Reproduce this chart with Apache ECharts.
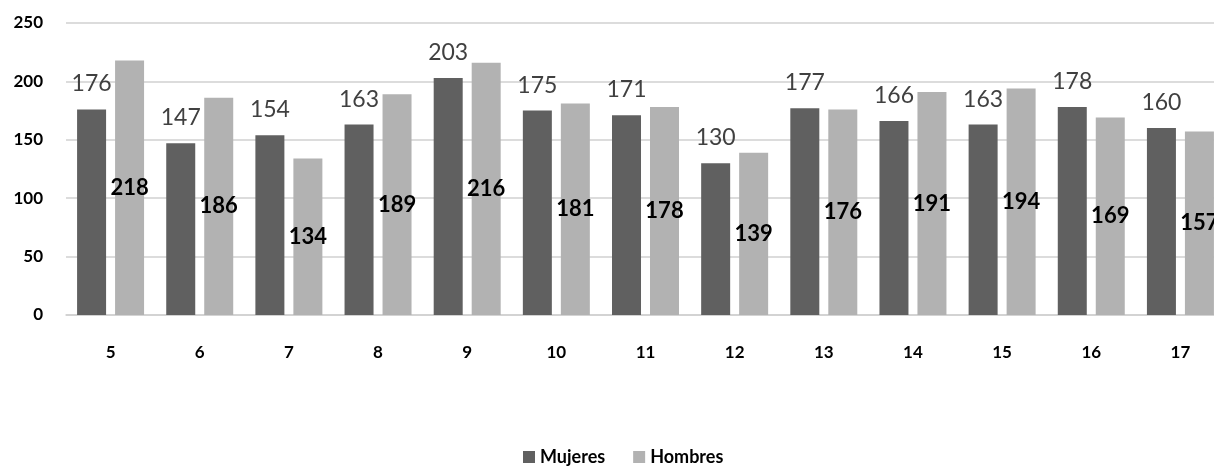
<!DOCTYPE html>
<html>
<head>
<meta charset="utf-8">
<script src="https://cdn.jsdelivr.net/npm/echarts@6/dist/echarts.min.js"></script>
<style>
html,body{margin:0;padding:0;background:#fff;}
#c{width:1214px;height:466px;}
</style>
</head>
<body>
<div id="c"></div>
<script>
const categories = ['5','6','7','8','9','10','11','12','13','14','15','16','17'];
const mujeres = [176,147,154,163,203,175,171,130,177,166,163,178,160];
const hombres = [218,186,134,189,216,181,178,139,176,191,194,169,157];
const yTicks = [0,50,100,150,200,250];

const chart = echarts.init(document.getElementById('c'));
const FONT = 'Lato, "Open Sans", sans-serif';
chart.setOption({
  animation: false,
  backgroundColor: '#fff',
  textStyle: {fontFamily: FONT},
  grid: {left: 66, width: 1159, top: 23, height: 292, containLabel: false, outerBoundsMode: 'none'},
  legend: {
    data: ['Mujeres','Hombres'],
    top: 443, left: 518,
    icon: 'rect', itemWidth: 12, itemHeight: 12, itemGap: 28,
    textStyle: {fontFamily: FONT, fontSize: 18, fontWeight: 'bold', color: '#000'}
  },
  xAxis: {
    type: 'category', data: categories,
    axisTick: {show: false},
    axisLine: {lineStyle: {color: '#cfcfcf', width: 1.5}},
    axisLabel: {fontFamily: FONT, fontSize: 17, fontWeight: 'bold', color: '#000', margin: 29}
  },
  yAxis: {
    type: 'value', min: yTicks[0], max: yTicks[yTicks.length-1], interval: 50,
    axisLine: {show: false}, axisTick: {show: false},
    splitLine: {lineStyle: {color: '#d0d0d0', width: 1.5}},
    axisLabel: {fontFamily: FONT, fontSize: 17, fontWeight: 'bold', color: '#000', margin: 23}
  },
  series: [
    {
      name: 'Mujeres', type: 'bar', data: mujeres,
      barWidth: 29, barGap: '31%',
      itemStyle: {color: '#606060'},
      label: {show: true, position: 'top', distance: 14, fontFamily: FONT, fontSize: 23, color: '#404040'}
    },
    {
      name: 'Hombres', type: 'bar', data: hombres,
      barWidth: 29,
      itemStyle: {color: '#b2b2b2'},
      label: {show: true, position: 'inside', fontFamily: FONT, fontSize: 22, fontWeight: 'bold', color: '#000'}
    }
  ]
});
</script>
</body>
</html>
